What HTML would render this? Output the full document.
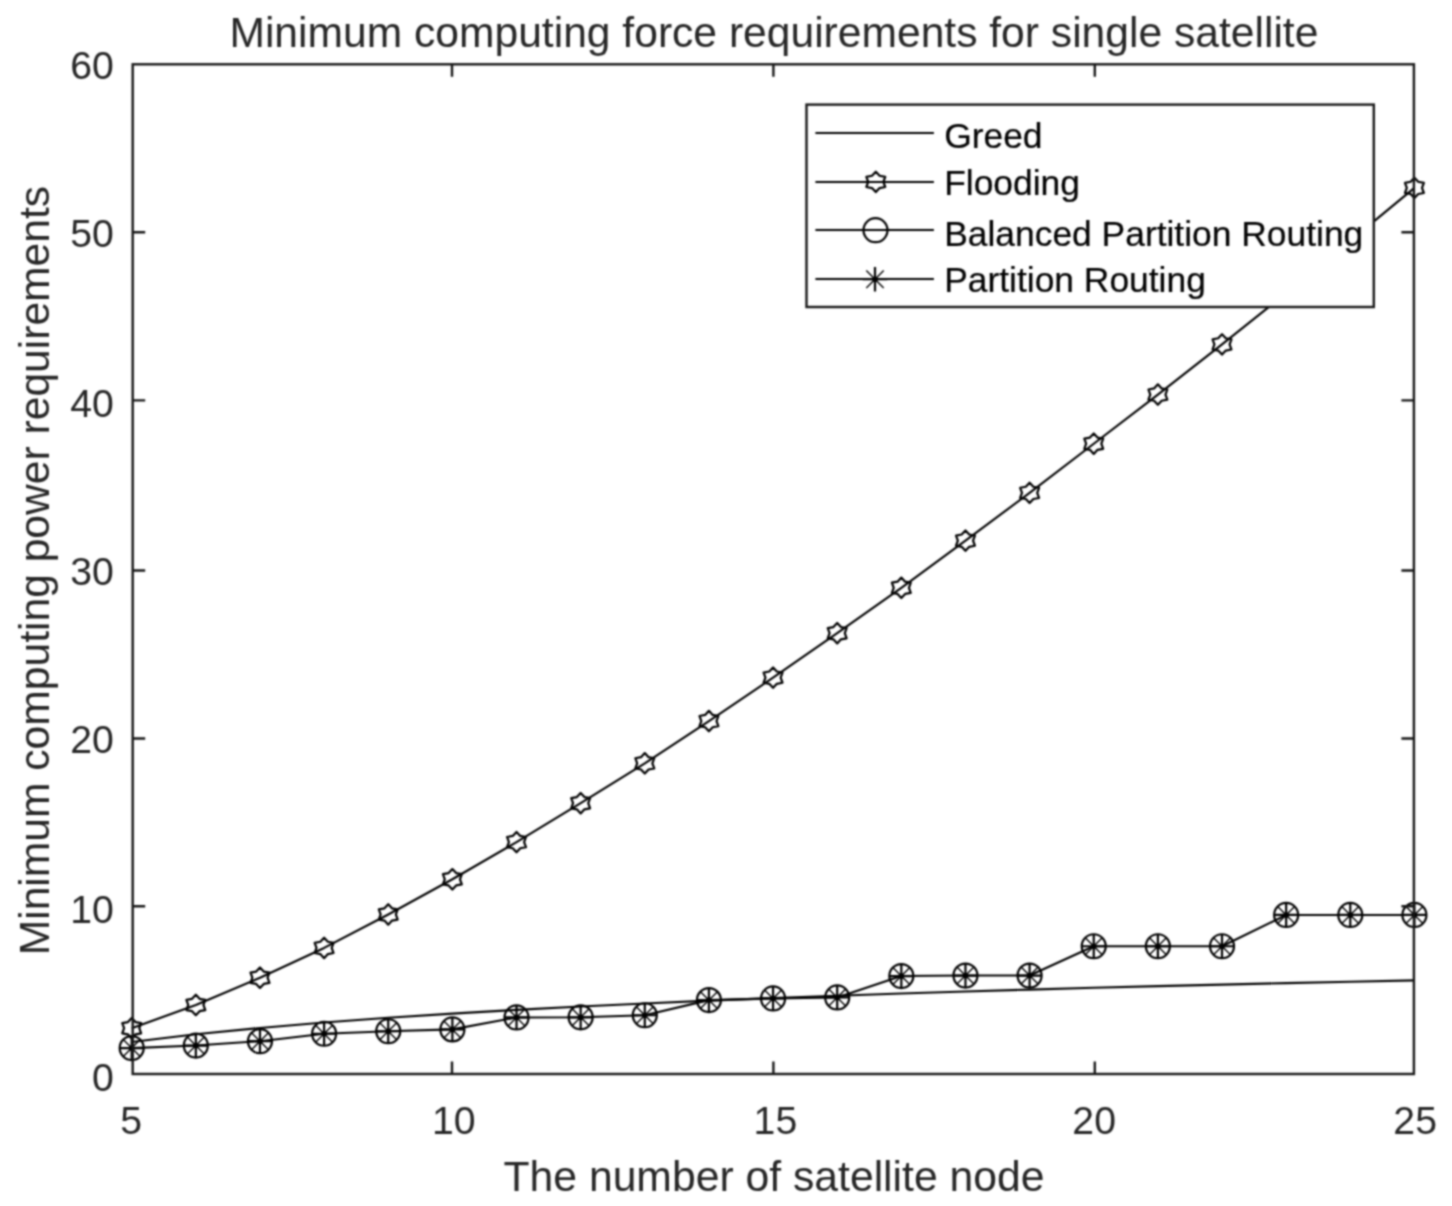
<!DOCTYPE html><html><head><meta charset="utf-8"><style>html,body{margin:0;padding:0;background:#fff;overflow:hidden;width:1452px;height:1206px}svg{display:block;will-change:transform}text{font-family:"Liberation Sans",sans-serif;fill:#262626}.thin{stroke:#fff;stroke-width:0.25px}.med{stroke:#000;stroke-width:0.2px;fill:#000}.blk{fill:#000;stroke:#000;stroke-width:0.6px}.thick{stroke:#262626;stroke-width:0.6px}</style></head><body>
<svg width="1452" height="1206" viewBox="0 0 1452 1206">
<defs><filter id="bl" x="0" y="0" width="1452" height="1206" filterUnits="userSpaceOnUse" color-interpolation-filters="sRGB"><feConvolveMatrix order="5" kernelMatrix="1 6 11 6 1 6 36 66 36 6 11 66 121 66 11 6 36 66 36 6 1 6 11 6 1" divisor="625" edgeMode="duplicate"/></filter></defs>
<g filter="url(#bl)"><rect width="1452" height="1206" fill="#fff"/>
<g fill="none" stroke="#000" stroke-width="2.1" stroke-linejoin="round">
<polyline points="131.70,1041.95 195.84,1034.33 259.97,1027.97 324.11,1022.53 388.24,1017.79 452.38,1013.60 516.52,1009.86 580.65,1006.50 644.79,1003.44 708.92,1000.65 773.06,998.08 837.20,995.71 901.33,993.52 965.47,991.48 1029.60,989.58 1093.74,987.81 1157.88,986.14 1222.01,984.58 1286.15,983.11 1350.28,981.72 1414.42,980.41"/>
<polyline points="131.70,1028.22 195.84,1004.99 259.97,977.73 324.11,947.94 388.24,914.45 452.38,879.27 516.52,842.08 580.65,803.20 644.79,763.31 708.92,721.07 773.06,677.65 837.20,633.22 901.33,587.78 965.47,540.65 1029.60,492.86 1093.74,443.71 1157.88,394.57 1222.01,344.41 1286.15,293.08 1350.28,240.91 1414.42,187.90"/>
<polyline points="131.70,1048.08 195.84,1045.55 259.97,1041.18 324.11,1033.77 388.24,1031.25 452.38,1029.40 516.52,1017.45 580.65,1017.28 644.79,1015.26 708.92,1000.11 773.06,998.43 837.20,997.42 901.33,976.04 965.47,975.54 1029.60,975.54 1093.74,946.26 1157.88,946.26 1222.01,946.26 1286.15,914.95 1350.28,914.95 1414.42,914.95"/>
</g>
<g fill="none" stroke="#000" stroke-width="2.2">
<polygon stroke-linejoin="round" points="131.70,1018.02 127.90,1022.07 122.25,1023.12 124.10,1028.22 122.25,1033.32 127.90,1034.37 131.70,1038.42 135.50,1034.37 141.15,1033.32 139.30,1028.22 141.15,1023.12 135.50,1022.07"/>
<polygon stroke-linejoin="round" points="195.84,994.79 192.04,998.84 186.38,999.89 188.24,1004.99 186.38,1010.09 192.04,1011.14 195.84,1015.19 199.63,1011.14 205.29,1010.09 203.43,1004.99 205.29,999.89 199.63,998.84"/>
<polygon stroke-linejoin="round" points="259.97,967.53 256.17,971.58 250.52,972.63 252.37,977.73 250.52,982.83 256.17,983.88 259.97,987.93 263.77,983.88 269.42,982.83 267.57,977.73 269.42,972.63 263.77,971.58"/>
<polygon stroke-linejoin="round" points="324.11,937.74 320.31,941.79 314.66,942.84 316.51,947.94 314.66,953.04 320.31,954.09 324.11,958.14 327.91,954.09 333.56,953.04 331.70,947.94 333.56,942.84 327.91,941.79"/>
<polygon stroke-linejoin="round" points="388.24,904.25 384.45,908.30 378.79,909.35 380.65,914.45 378.79,919.55 384.45,920.60 388.24,924.65 392.04,920.60 397.70,919.55 395.84,914.45 397.70,909.35 392.04,908.30"/>
<polygon stroke-linejoin="round" points="452.38,869.07 448.58,873.12 442.93,874.17 444.78,879.27 442.93,884.37 448.58,885.42 452.38,889.47 456.18,885.42 461.83,884.37 459.98,879.27 461.83,874.17 456.18,873.12"/>
<polygon stroke-linejoin="round" points="516.52,831.88 512.72,835.93 507.06,836.98 508.92,842.08 507.06,847.18 512.72,848.23 516.52,852.28 520.31,848.23 525.97,847.18 524.11,842.08 525.97,836.98 520.31,835.93"/>
<polygon stroke-linejoin="round" points="580.65,793.00 576.85,797.05 571.20,798.10 573.06,803.20 571.20,808.30 576.85,809.35 580.65,813.40 584.45,809.35 590.10,808.30 588.25,803.20 590.10,798.10 584.45,797.05"/>
<polygon stroke-linejoin="round" points="644.79,753.11 640.99,757.16 635.34,758.21 637.19,763.31 635.34,768.41 640.99,769.46 644.79,773.51 648.59,769.46 654.24,768.41 652.38,763.31 654.24,758.21 648.59,757.16"/>
<polygon stroke-linejoin="round" points="708.92,710.87 705.13,714.92 699.47,715.97 701.33,721.07 699.47,726.17 705.13,727.22 708.92,731.27 712.72,727.22 718.38,726.17 716.52,721.07 718.38,715.97 712.72,714.92"/>
<polygon stroke-linejoin="round" points="773.06,667.45 769.26,671.50 763.61,672.55 765.46,677.65 763.61,682.75 769.26,683.80 773.06,687.85 776.86,683.80 782.51,682.75 780.66,677.65 782.51,672.55 776.86,671.50"/>
<polygon stroke-linejoin="round" points="837.20,623.02 833.40,627.07 827.74,628.12 829.60,633.22 827.74,638.32 833.40,639.37 837.20,643.42 840.99,639.37 846.65,638.32 844.79,633.22 846.65,628.12 840.99,627.07"/>
<polygon stroke-linejoin="round" points="901.33,577.58 897.53,581.63 891.88,582.68 893.73,587.78 891.88,592.88 897.53,593.93 901.33,597.98 905.13,593.93 910.78,592.88 908.93,587.78 910.78,582.68 905.13,581.63"/>
<polygon stroke-linejoin="round" points="965.47,530.45 961.67,534.50 956.02,535.55 957.87,540.65 956.02,545.75 961.67,546.80 965.47,550.85 969.27,546.80 974.92,545.75 973.06,540.65 974.92,535.55 969.27,534.50"/>
<polygon stroke-linejoin="round" points="1029.60,482.66 1025.81,486.71 1020.15,487.76 1022.01,492.86 1020.15,497.96 1025.81,499.00 1029.60,503.06 1033.40,499.00 1039.06,497.96 1037.20,492.86 1039.06,487.76 1033.40,486.71"/>
<polygon stroke-linejoin="round" points="1093.74,433.51 1089.94,437.56 1084.29,438.61 1086.14,443.71 1084.29,448.81 1089.94,449.86 1093.74,453.91 1097.54,449.86 1103.19,448.81 1101.34,443.71 1103.19,438.61 1097.54,437.56"/>
<polygon stroke-linejoin="round" points="1157.88,384.37 1154.08,388.42 1148.42,389.47 1150.28,394.57 1148.42,399.67 1154.08,400.72 1157.88,404.77 1161.67,400.72 1167.33,399.67 1165.47,394.57 1167.33,389.47 1161.67,388.42"/>
<polygon stroke-linejoin="round" points="1222.01,334.21 1218.21,338.27 1212.56,339.31 1214.41,344.41 1212.56,349.51 1218.21,350.56 1222.01,354.61 1225.81,350.56 1231.46,349.51 1229.61,344.41 1231.46,339.31 1225.81,338.27"/>
<polygon stroke-linejoin="round" points="1286.15,282.88 1282.35,286.93 1276.70,287.98 1278.55,293.08 1276.70,298.18 1282.35,299.23 1286.15,303.28 1289.95,299.23 1295.60,298.18 1293.74,293.08 1295.60,287.98 1289.95,286.93"/>
<polygon stroke-linejoin="round" points="1350.28,230.71 1346.49,234.76 1340.83,235.81 1342.69,240.91 1340.83,246.01 1346.49,247.06 1350.28,251.11 1354.08,247.06 1359.74,246.01 1357.88,240.91 1359.74,235.81 1354.08,234.76"/>
<polygon stroke-linejoin="round" points="1414.42,177.70 1410.62,181.75 1404.97,182.80 1406.82,187.90 1404.97,193.00 1410.62,194.04 1414.42,198.10 1418.22,194.04 1423.87,193.00 1422.02,187.90 1423.87,182.80 1418.22,181.75"/>
<circle cx="131.70" cy="1048.08" r="12.0"/>
<circle cx="195.84" cy="1045.55" r="12.0"/>
<circle cx="259.97" cy="1041.18" r="12.0"/>
<circle cx="324.11" cy="1033.77" r="12.0"/>
<circle cx="388.24" cy="1031.25" r="12.0"/>
<circle cx="452.38" cy="1029.40" r="12.0"/>
<circle cx="516.52" cy="1017.45" r="12.0"/>
<circle cx="580.65" cy="1017.28" r="12.0"/>
<circle cx="644.79" cy="1015.26" r="12.0"/>
<circle cx="708.92" cy="1000.11" r="12.0"/>
<circle cx="773.06" cy="998.43" r="12.0"/>
<circle cx="837.20" cy="997.42" r="12.0"/>
<circle cx="901.33" cy="976.04" r="12.0"/>
<circle cx="965.47" cy="975.54" r="12.0"/>
<circle cx="1029.60" cy="975.54" r="12.0"/>
<circle cx="1093.74" cy="946.26" r="12.0"/>
<circle cx="1157.88" cy="946.26" r="12.0"/>
<circle cx="1222.01" cy="946.26" r="12.0"/>
<circle cx="1286.15" cy="914.95" r="12.0"/>
<circle cx="1350.28" cy="914.95" r="12.0"/>
<circle cx="1414.42" cy="914.95" r="12.0"/>
<path stroke-width="2.2" d="M131.70,1036.08V1060.08M119.70,1048.08H143.70"/><path stroke-width="1.4" d="M123.21,1039.59L140.19,1056.56M123.21,1056.56L140.19,1039.59"/><circle cx="131.70" cy="1048.08" r="2.8" fill="#000" stroke="none"/>
<path stroke-width="2.2" d="M195.84,1033.55V1057.55M183.84,1045.55H207.84"/><path stroke-width="1.4" d="M187.35,1037.07L204.32,1054.04M187.35,1054.04L204.32,1037.07"/><circle cx="195.84" cy="1045.55" r="2.8" fill="#000" stroke="none"/>
<path stroke-width="2.2" d="M259.97,1029.18V1053.18M247.97,1041.18H271.97"/><path stroke-width="1.4" d="M251.49,1032.69L268.46,1049.66M251.49,1049.66L268.46,1032.69"/><circle cx="259.97" cy="1041.18" r="2.8" fill="#000" stroke="none"/>
<path stroke-width="2.2" d="M324.11,1021.77V1045.77M312.11,1033.77H336.11"/><path stroke-width="1.4" d="M315.62,1025.29L332.59,1042.26M315.62,1042.26L332.59,1025.29"/><circle cx="324.11" cy="1033.77" r="2.8" fill="#000" stroke="none"/>
<path stroke-width="2.2" d="M388.24,1019.25V1043.25M376.24,1031.25H400.24"/><path stroke-width="1.4" d="M379.76,1022.76L396.73,1039.73M379.76,1039.73L396.73,1022.76"/><circle cx="388.24" cy="1031.25" r="2.8" fill="#000" stroke="none"/>
<path stroke-width="2.2" d="M452.38,1017.40V1041.40M440.38,1029.40H464.38"/><path stroke-width="1.4" d="M443.89,1020.91L460.87,1037.88M443.89,1037.88L460.87,1020.91"/><circle cx="452.38" cy="1029.40" r="2.8" fill="#000" stroke="none"/>
<path stroke-width="2.2" d="M516.52,1005.45V1029.45M504.52,1017.45H528.52"/><path stroke-width="1.4" d="M508.03,1008.96L525.00,1025.93M508.03,1025.93L525.00,1008.96"/><circle cx="516.52" cy="1017.45" r="2.8" fill="#000" stroke="none"/>
<path stroke-width="2.2" d="M580.65,1005.28V1029.28M568.65,1017.28H592.65"/><path stroke-width="1.4" d="M572.17,1008.79L589.14,1025.76M572.17,1025.76L589.14,1008.79"/><circle cx="580.65" cy="1017.28" r="2.8" fill="#000" stroke="none"/>
<path stroke-width="2.2" d="M644.79,1003.26V1027.26M632.79,1015.26H656.79"/><path stroke-width="1.4" d="M636.30,1006.77L653.27,1023.74M636.30,1023.74L653.27,1006.77"/><circle cx="644.79" cy="1015.26" r="2.8" fill="#000" stroke="none"/>
<path stroke-width="2.2" d="M708.92,988.11V1012.11M696.92,1000.11H720.92"/><path stroke-width="1.4" d="M700.44,991.63L717.41,1008.60M700.44,1008.60L717.41,991.63"/><circle cx="708.92" cy="1000.11" r="2.8" fill="#000" stroke="none"/>
<path stroke-width="2.2" d="M773.06,986.43V1010.43M761.06,998.43H785.06"/><path stroke-width="1.4" d="M764.57,989.94L781.55,1006.91M764.57,1006.91L781.55,989.94"/><circle cx="773.06" cy="998.43" r="2.8" fill="#000" stroke="none"/>
<path stroke-width="2.2" d="M837.20,985.42V1009.42M825.20,997.42H849.20"/><path stroke-width="1.4" d="M828.71,988.93L845.68,1005.90M828.71,1005.90L845.68,988.93"/><circle cx="837.20" cy="997.42" r="2.8" fill="#000" stroke="none"/>
<path stroke-width="2.2" d="M901.33,964.04V988.04M889.33,976.04H913.33"/><path stroke-width="1.4" d="M892.85,967.56L909.82,984.53M892.85,984.53L909.82,967.56"/><circle cx="901.33" cy="976.04" r="2.8" fill="#000" stroke="none"/>
<path stroke-width="2.2" d="M965.47,963.54V987.54M953.47,975.54H977.47"/><path stroke-width="1.4" d="M956.98,967.05L973.95,984.02M956.98,984.02L973.95,967.05"/><circle cx="965.47" cy="975.54" r="2.8" fill="#000" stroke="none"/>
<path stroke-width="2.2" d="M1029.60,963.54V987.54M1017.60,975.54H1041.60"/><path stroke-width="1.4" d="M1021.12,967.05L1038.09,984.02M1021.12,984.02L1038.09,967.05"/><circle cx="1029.60" cy="975.54" r="2.8" fill="#000" stroke="none"/>
<path stroke-width="2.2" d="M1093.74,934.26V958.26M1081.74,946.26H1105.74"/><path stroke-width="1.4" d="M1085.25,937.77L1102.23,954.74M1085.25,954.74L1102.23,937.77"/><circle cx="1093.74" cy="946.26" r="2.8" fill="#000" stroke="none"/>
<path stroke-width="2.2" d="M1157.88,934.26V958.26M1145.88,946.26H1169.88"/><path stroke-width="1.4" d="M1149.39,937.77L1166.36,954.74M1149.39,954.74L1166.36,937.77"/><circle cx="1157.88" cy="946.26" r="2.8" fill="#000" stroke="none"/>
<path stroke-width="2.2" d="M1222.01,934.26V958.26M1210.01,946.26H1234.01"/><path stroke-width="1.4" d="M1213.53,937.77L1230.50,954.74M1213.53,954.74L1230.50,937.77"/><circle cx="1222.01" cy="946.26" r="2.8" fill="#000" stroke="none"/>
<path stroke-width="2.2" d="M1286.15,902.95V926.95M1274.15,914.95H1298.15"/><path stroke-width="1.4" d="M1277.66,906.47L1294.63,923.44M1277.66,923.44L1294.63,906.47"/><circle cx="1286.15" cy="914.95" r="2.8" fill="#000" stroke="none"/>
<path stroke-width="2.2" d="M1350.28,902.95V926.95M1338.28,914.95H1362.28"/><path stroke-width="1.4" d="M1341.80,906.47L1358.77,923.44M1341.80,923.44L1358.77,906.47"/><circle cx="1350.28" cy="914.95" r="2.8" fill="#000" stroke="none"/>
<path stroke-width="2.2" d="M1414.42,902.95V926.95M1402.42,914.95H1426.42"/><path stroke-width="1.4" d="M1405.93,906.47L1422.91,923.44M1405.93,923.44L1422.91,906.47"/><circle cx="1414.42" cy="914.95" r="2.8" fill="#000" stroke="none"/>
</g>
<g fill="none" stroke="#161616" stroke-width="2.4">
<rect x="132.7" y="64.3" width="1281.20" height="1009.70"/>
<path d="M452.00,1074.0V1061.5M452.00,64.3V76.8"/>
<path d="M773.40,1074.0V1061.5M773.40,64.3V76.8"/>
<path d="M1094.80,1074.0V1061.5M1094.80,64.3V76.8"/>
<path d="M132.7,906.30H145.2M1413.9,906.30H1401.4"/>
<path d="M132.7,738.45H145.2M1413.9,738.45H1401.4"/>
<path d="M132.7,570.45H145.2M1413.9,570.45H1401.4"/>
<path d="M132.7,400.40H145.2M1413.9,400.40H1401.4"/>
<path d="M132.7,232.30H145.2M1413.9,232.30H1401.4"/>
</g>
<text x="131.15" y="1133.5" font-size="39.2" text-anchor="middle">5</text>
<text x="453.70" y="1133.5" font-size="39.2" text-anchor="middle">10</text>
<text x="775.40" y="1133.5" font-size="39.2" text-anchor="middle">15</text>
<text x="1094.15" y="1133.5" font-size="39.2" text-anchor="middle">20</text>
<text x="1415.15" y="1133.5" font-size="39.2" text-anchor="middle">25</text>
<text x="113.8" y="1091.08" font-size="39.2" text-anchor="end">0</text>
<text x="113.8" y="922.98" font-size="39.2" text-anchor="end">10</text>
<text x="113.8" y="752.58" font-size="39.2" text-anchor="end">20</text>
<text x="113.8" y="584.98" font-size="39.2" text-anchor="end">30</text>
<text x="113.8" y="416.88" font-size="39.2" text-anchor="end">40</text>
<text x="113.8" y="246.68" font-size="39.2" text-anchor="end">50</text>
<text x="113.8" y="78.98" font-size="39.2" text-anchor="end">60</text>
<text x="773.9" y="46.5" font-size="42.6" text-anchor="middle">Minimum computing force requirements for single satellite</text>
<text x="774.0" y="1191.1" font-size="42.7" text-anchor="middle">The number of satellite node</text>
<text transform="translate(48.8,570.6) rotate(-90)" font-size="42.6" text-anchor="middle">Minimum computing power requirements</text>
<rect x="806.5" y="104.6" width="567.30" height="202.40" fill="#fff" stroke="#161616" stroke-width="2.4"/>
<g fill="none" stroke="#000" stroke-width="2.1">
<path d="M815.4,133.0H933.9"/>
<path d="M815.4,182.0H933.9"/>
<path d="M815.4,230.0H933.9"/>
<path d="M815.4,279.0H933.9"/>
</g>
<g fill="none" stroke="#000" stroke-width="2.2">
<polygon stroke-linejoin="round" points="875.80,171.70 872.00,175.75 866.35,176.80 868.20,181.90 866.35,187.00 872.00,188.05 875.80,192.10 879.60,188.05 885.25,187.00 883.40,181.90 885.25,176.80 879.60,175.75"/>
<circle cx="875.50" cy="230.20" r="12.0"/>
<path stroke-width="2.2" d="M875.00,266.90V291.50M862.70,279.20H887.30"/><path stroke-width="1.4" d="M866.30,270.50L883.70,287.90M866.30,287.90L883.70,270.50"/><circle cx="875.00" cy="279.20" r="2.8" fill="#000" stroke="none"/>
</g>
<text x="944.2" y="148.00" font-size="35.4" class="med">Greed</text>
<text x="944.2" y="194.80" font-size="35.4" class="med">Flooding</text>
<text x="944.2" y="245.50" font-size="35.4" class="med">Balanced Partition Routing</text>
<text x="944.2" y="292.10" font-size="35.4" class="med">Partition Routing</text>
</g></svg></body></html>
